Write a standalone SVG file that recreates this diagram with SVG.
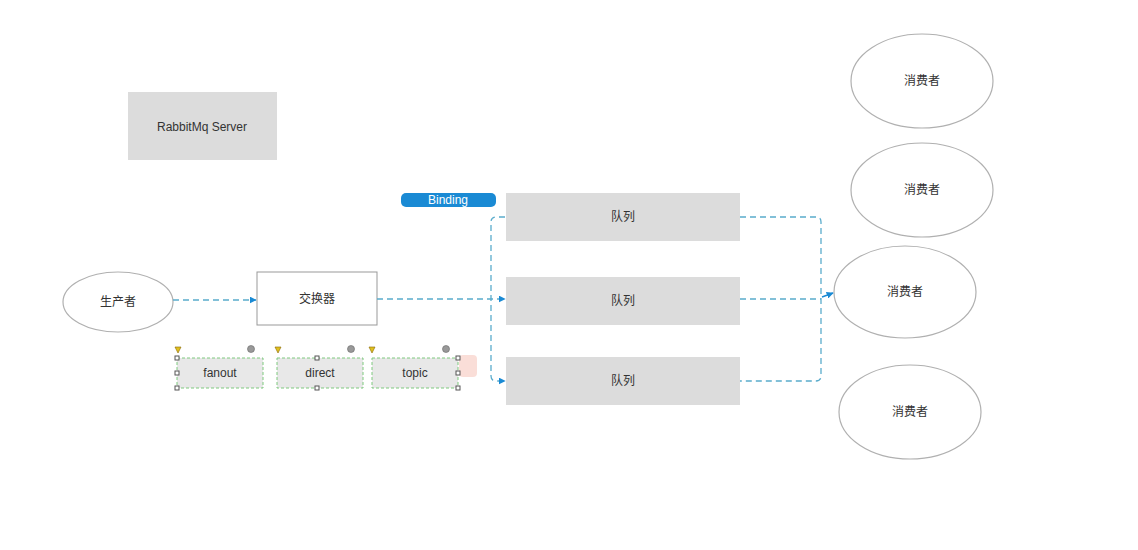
<svg xmlns="http://www.w3.org/2000/svg" width="1138" height="550" viewBox="0 0 1138 550">
<style>
.t{font-family:"Liberation Sans","Noto Sans CJK SC",sans-serif;font-size:12px;fill:#333;text-anchor:middle;dominant-baseline:central}
.gray{fill:#dcdcdc;stroke:none}
.ell{fill:#fff;stroke:#b0b0b0;stroke-width:1.2}
.ex{fill:#e8e8e8;stroke:#7fc97f;stroke-width:1;stroke-dasharray:3 2}
.c{fill:none;stroke:#5aaccc;stroke-width:1.3;stroke-dasharray:6 4}
.h{fill:#fff;stroke:#555;stroke-width:1}
.tri{fill:#e0c020;stroke:#886600;stroke-width:0.6}
.dot{fill:#999;stroke:#666;stroke-width:0.6}
</style>
<defs>
<marker id="arr" viewBox="0 0 10 10" refX="9" refY="5" markerWidth="7" markerHeight="7" orient="auto" markerUnits="userSpaceOnUse">
<path d="M0,0 L10,5 L0,10 z" fill="#1a8ad4"/>
</marker>
</defs>
<rect width="1138" height="550" fill="#fff"/>
<g id="server"><rect class="gray" x="128" y="92" width="149" height="68"/><text class="t" x="202" y="127">RabbitMq Server</text></g>
<g id="producer"><ellipse class="ell" cx="118" cy="302" rx="55" ry="30"/><text class="t" x="118" y="302">生产者</text></g>
<g id="exchange"><rect x="257" y="272" width="120" height="53" fill="#fff" stroke="#999" stroke-width="1"/><text class="t" x="317" y="299">交换器</text></g>
<g id="binding"><rect x="401" y="193" width="95" height="14" rx="5" fill="#1a8ad4"/><text class="t" x="448" y="200" style="fill:#fff">Binding</text></g>
<g id="queue1"><rect class="gray" x="506" y="193" width="234" height="48"/><text class="t" x="623" y="217">队列</text></g>
<g id="queue2"><rect class="gray" x="506" y="277" width="234" height="48"/><text class="t" x="623" y="301">队列</text></g>
<g id="queue3"><rect class="gray" x="506" y="357" width="234" height="48"/><text class="t" x="623" y="381">队列</text></g>
<g id="consumer1"><ellipse class="ell" cx="922" cy="81" rx="71" ry="47"/><text class="t" x="922" y="81">消费者</text></g>
<g id="consumer2"><ellipse class="ell" cx="922" cy="190" rx="71" ry="47"/><text class="t" x="922" y="190">消费者</text></g>
<g id="consumer3"><ellipse class="ell" cx="905" cy="292" rx="71" ry="46"/><text class="t" x="905" y="292">消费者</text></g>
<g id="consumer4"><ellipse class="ell" cx="910" cy="412" rx="71" ry="47"/><text class="t" x="910" y="412">消费者</text></g>
<g id="fanout"><rect class="ex" x="177" y="358" width="86" height="30"/><text class="t" x="220" y="373">fanout</text></g>
<g id="direct"><rect class="ex" x="277" y="358" width="86" height="30"/><text class="t" x="320" y="373">direct</text></g>
<g id="topic"><rect class="ex" x="372" y="358" width="86" height="30"/><text class="t" x="415" y="373">topic</text></g>
<g id="handles">
<rect x="459" y="355" width="18" height="22" rx="4" fill="#f8d0c8" opacity="0.7"/>
<path class="tri" d="M175,347 L181,347 L178,353 z"/>
<path class="tri" d="M275,347 L281,347 L278,353 z"/>
<path class="tri" d="M369,347 L375,347 L372,353 z"/>
<circle class="dot" cx="251" cy="349" r="3.5"/>
<circle class="dot" cx="351" cy="349" r="3.5"/>
<circle class="dot" cx="446" cy="349" r="3.5"/>
<rect class="h" x="175" y="356" width="4" height="4"/>
<rect class="h" x="175" y="371" width="4" height="4"/>
<rect class="h" x="175" y="386" width="4" height="4"/>
<rect class="h" x="315" y="356" width="4" height="4"/>
<rect class="h" x="315" y="386" width="4" height="4"/>
<rect class="h" x="456" y="356" width="4" height="4"/>
<rect class="h" x="456" y="371" width="4" height="4"/>
<rect class="h" x="456" y="386" width="4" height="4"/>
</g>
<g id="connectors">
<path class="c" d="M173,300 L256,300" marker-end="url(#arr)"/>
<path class="c" d="M377,299 L505,299" marker-end="url(#arr)"/>
<path class="c" d="M505,217 L496,217 Q491,217 491,222 L491,376 Q491,381 496,381 L505,381" marker-end="url(#arr)"/>
<path class="c" d="M740,217 L816,217 Q821,217 821,222 L821,376 Q821,381 816,381 L740,381"/>
<path class="c" d="M740,299 L821,299"/>
<path d="M822,297 L833,293" fill="none" stroke="#1a8ad4" stroke-width="1.5" marker-end="url(#arr)"/>
</g>
</svg>
